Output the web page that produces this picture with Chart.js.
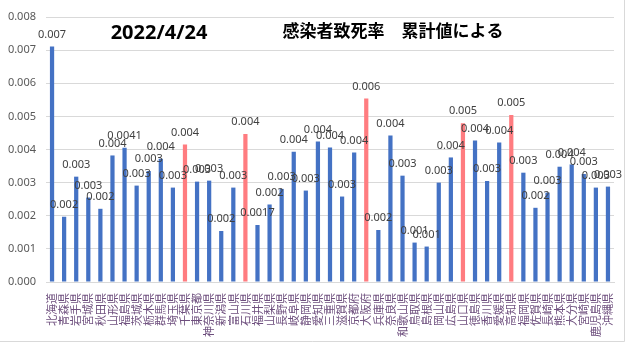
<!DOCTYPE html>
<html>
<head>
    <title>感染者致死率</title>
    <style>
        body { margin: 0; background: #fff; }
        #wrap { width: 629px; height: 347px; position: relative; }
    </style>
    <script src="https://cdn.jsdelivr.net/npm/chart.js"></script>
</head>
<body>
<div id="wrap"><canvas id="rateChart" width="629" height="347"></canvas></div>
<script>
const prefectures = ['北海道','青森県','岩手県','宮城県','秋田県','山形県','福島県','茨城県','栃木県','群馬県',
    '埼玉県','千葉県','東京都','神奈川県','新潟県','富山県','石川県','福井県','山梨県','長野県',
    '岐阜県','静岡県','愛知県','三重県','滋賀県','京都府','大阪府','兵庫県','奈良県','和歌山県',
    '鳥取県','島根県','岡山県','広島県','山口県','徳島県','香川県','愛媛県','高知県','福岡県',
    '佐賀県','長崎県','熊本県','大分県','宮崎県','鹿児島県','沖縄県'];

const deathRate = [0.00711,0.00197,0.00318,0.00255,0.00221,0.00382,0.00405,0.00291,0.00335,0.00372,
    0.00285,0.00415,0.00303,0.00306,0.00154,0.00285,0.00447,0.00172,0.00234,0.00281,
    0.00393,0.00276,0.00424,0.00406,0.00258,0.00391,0.00554,0.00157,0.00442,0.00321,
    0.00119,0.00107,0.00300,0.00376,0.00479,0.00427,0.00305,0.00421,0.00504,0.00330,
    0.00224,0.00270,0.00348,0.00355,0.00326,0.00285,0.00288];

// data labels as shown on the chart
const rateLabels = ['0.007','0.002','0.003','0.003','0.002','0.004','0.0041','0.003','0.003','0.004',
    '0.003','0.004','0.003','0.003','0.002','0.003','0.004','0.0017','0.002','0.003',
    '0.004','0.003','0.004','0.004','0.003','0.004','0.006','0.002','0.004','0.003',
    '0.001','0.001','0.003','0.004','0.005','0.004','0.003','0.004','0.005','0.003',
    '0.002','0.003','0.004','0.004','0.003','0.003','0.003'];

const highlighted = ['千葉県','石川県','大阪府','山口県','高知県'];

const yTicks = [0, 0.001, 0.002, 0.003, 0.004, 0.005, 0.006, 0.007, 0.008];

const barColors = prefectures.map(p => highlighted.includes(p) ? '#FF7C80' : '#4472C4');

const decorPlugin = {
    id: 'decor',
    beforeDraw(chart) {
        const ctx = chart.ctx;
        ctx.save();
        ctx.fillStyle = '#fff';
        ctx.fillRect(0, 0, chart.width, chart.height);
        ctx.restore();
    },
    afterDatasetsDraw(chart) {
        const ctx = chart.ctx;
        const meta = chart.getDatasetMeta(0);
        ctx.save();
        ctx.font = '11px "Noto Sans"';
        ctx.fillStyle = '#404040';
        ctx.textAlign = 'center';
        ctx.textBaseline = 'middle';
        meta.data.forEach((bar, i) => {
            ctx.fillText(rateLabels[i], bar.x, bar.y - 12);
        });

        // titles
        ctx.fillStyle = '#000';
        ctx.font = 'bold 20px "Noto Sans"';
        ctx.fillText('2022/4/24', 159, 33);
        ctx.font = 'bold 17px "Noto Sans CJK JP"';
        ctx.fillText('感染者致死率　累計値による', 393, 31);

        // outer border (right, bottom)
        ctx.strokeStyle = '#d9d9d9';
        ctx.lineWidth = 1;
        ctx.beginPath();
        ctx.moveTo(624.5, 0);
        ctx.lineTo(624.5, 341.5);
        ctx.lineTo(0, 341.5);
        ctx.stroke();
        ctx.restore();
    }
};

const ctx = document.getElementById('rateChart').getContext('2d');
const chart = new Chart(ctx, {
    type: 'bar',
    data: {
        labels: prefectures,
        datasets: [{
            label: '致死率',
            data: deathRate,
            backgroundColor: barColors,
            categoryPercentage: 1,
            barPercentage: 0.35
        }]
    },
    options: {
        responsive: false,
        animation: false,
        layout: { padding: { top: 17, right: 15, left: 0, bottom: 0 } },
        plugins: {
            legend: { display: false },
            tooltip: { enabled: false }
        },
        scales: {
            x: {
                grid: { display: false },
                border: { color: '#d9d9d9' },
                ticks: {
                    autoSkip: false,
                    minRotation: 90,
                    maxRotation: 90,
                    padding: 3,
                    color: '#6e4f7e',
                    font: { size: 11, family: '"Noto Sans CJK JP"' }
                },
                afterFit(scale) { scale.height = 65; }
            },
            y: {
                min: 0,
                max: 0.008,
                afterBuildTicks(scale) { scale.ticks = yTicks.map(v => ({ value: v })); },
                grid: { color: '#d9d9d9', drawTicks: false },
                border: { display: false },
                ticks: {
                    padding: 10,
                    color: '#595959',
                    font: { size: 11, family: '"Noto Sans"' },
                    callback: v => Number(v).toFixed(3)
                },
                afterFit(scale) { scale.width = 46; }
            }
        }
    },
    plugins: [decorPlugin]
});
</script>
</body>
</html>
